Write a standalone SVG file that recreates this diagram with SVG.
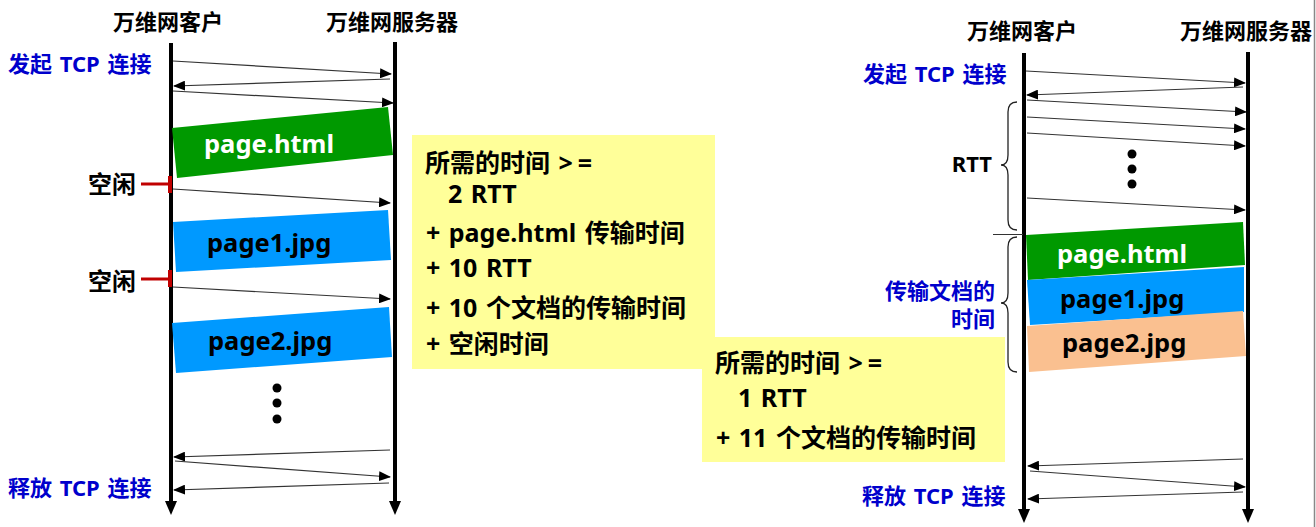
<svg xmlns="http://www.w3.org/2000/svg" width="1316" height="527" viewBox="0 0 1316 527">
<style>
text{font-family:"Noto Sans","Noto Sans CJK SC",sans-serif;font-weight:bold;dominant-baseline:central}
.title{font-size:22px;fill:#000;text-anchor:middle}
.blue{font-size:22px;fill:#0000CC;word-spacing:2px}
.idle{font-size:24px;fill:#000;text-anchor:end}
.box{font-size:25.5px}
.note{font-size:25px;fill:#000;word-spacing:2px}
.msg{stroke:#333;stroke-width:1.2;fill:none;marker-end:url(#ah)}
.axis{stroke:#000;stroke-width:4;fill:none;marker-end:url(#big)}
.brace{stroke:#222;stroke-width:1.3;fill:none}
</style>
<defs>
<marker id="ah" markerUnits="userSpaceOnUse" markerWidth="12" markerHeight="10" refX="11" refY="5" orient="auto" viewBox="0 0 12 10">
<path d="M0,0 L12,5 L0,10 z" fill="#000"/>
</marker>
<marker id="big" markerUnits="userSpaceOnUse" markerWidth="12" markerHeight="14" refX="6" refY="2" orient="0" viewBox="0 0 12 14">
<path d="M0,0 L12,0 L6,14 z" fill="#000"/>
</marker>
</defs>
<rect width="1316" height="527" fill="#fff"/>
<line x1="1314.5" y1="0" x2="1314.5" y2="527" stroke="#888" stroke-width="1.5"/>

<g id="left-client">
<text class="title" x="168" y="21">万维网客户</text>
<line class="axis" x1="171" y1="43" x2="171" y2="503"/>
</g>
<g id="left-server">
<text class="title" x="392" y="21">万维网服务器</text>
<line class="axis" x1="395" y1="42" x2="395" y2="503"/>
</g>
<g id="left-labels">
<text class="blue" x="8" y="63">发起 TCP 连接</text>
<text class="blue" x="8" y="487">释放 TCP 连接</text>
<text class="idle" x="136" y="183">空闲</text>
<text class="idle" x="136" y="280">空闲</text>
<line x1="141" y1="184" x2="170" y2="184" stroke="#C00000" stroke-width="3"/>
<line x1="170" y1="176" x2="170" y2="193" stroke="#C00000" stroke-width="4"/>
<line x1="141" y1="279" x2="170" y2="279" stroke="#C00000" stroke-width="3"/>
<line x1="170" y1="270" x2="170" y2="287" stroke="#C00000" stroke-width="4"/>
<circle cx="277" cy="388" r="4.5" fill="#000"/>
<circle cx="277" cy="403" r="4.5" fill="#000"/>
<circle cx="277" cy="419" r="4.5" fill="#000"/>
</g>
<g id="left-page-html">
<polygon points="172,128 388,107 393,155 177,178" fill="#009900"/>
<text class="box" x="204" y="143" fill="#fff">page.html</text>
</g>
<g id="left-page1">
<polygon points="173,222 388,210 391,260 176,272" fill="#0099FF"/>
<text class="box" x="207" y="242" fill="#000">page1.jpg</text>
</g>
<g id="left-page2">
<polygon points="172,323 389,307 392,357 176,373" fill="#0099FF"/>
<text class="box" x="208" y="340" fill="#000">page2.jpg</text>
</g>

<g id="note1">
<rect x="412" y="135" width="303" height="234" fill="#FFFF99"/>
<text class="note" x="425" y="162">所需的时间 &gt;<tspan dx="5">=</tspan></text>
<text class="note" x="448" y="193">2 RTT</text>
<text class="note" x="426" y="232">+ page.html 传输时间</text>
<text class="note" x="426" y="267">+ 10 RTT</text>
<text class="note" x="426" y="307">+ 10 个文档的传输时间</text>
<text class="note" x="426" y="343">+ 空闲时间</text>
</g>
<g id="note2">
<rect x="702" y="337" width="303" height="125" fill="#FFFF99"/>
<text class="note" x="715" y="362">所需的时间 &gt;<tspan dx="5">=</tspan></text>
<text class="note" x="738" y="397">1 RTT</text>
<text class="note" x="716" y="437">+ 11 个文档的传输时间</text>
</g>

<g id="right-client">
<text class="title" x="1022" y="30">万维网客户</text>
<line class="axis" x1="1024" y1="53" x2="1024" y2="511"/>
</g>
<g id="right-server">
<text class="title" x="1246" y="30">万维网服务器</text>
<line class="axis" x1="1248" y1="52" x2="1248" y2="511"/>
</g>
<g id="right-labels">
<text class="blue" x="863" y="73">发起 TCP 连接</text>
<text class="blue" x="862" y="495">释放 TCP 连接</text>
<text x="992" y="163" style="font-size:22px;fill:#000;text-anchor:end">RTT</text>
<text class="blue" x="995" y="290" style="text-anchor:end">传输文档的</text>
<text class="blue" x="995" y="318" style="text-anchor:end">时间</text>
<path class="brace" d="M1017,102 Q1008,102 1008,112 L1008,155 Q1008,165 1001,165 Q1008,165 1008,175 L1008,220 Q1008,230 1017,230"/>
<path class="brace" d="M1017,237 Q1008,237 1008,247 L1008,293 Q1008,303 1001,303 Q1008,303 1008,313 L1008,362 Q1008,372 1017,372"/>
<line x1="993" y1="234.5" x2="1023" y2="234.5" stroke="#333" stroke-width="1"/>
<circle cx="1132" cy="154" r="4.5" fill="#000"/>
<circle cx="1132" cy="169" r="4.5" fill="#000"/>
<circle cx="1132" cy="184" r="4.5" fill="#000"/>
</g>
<g id="right-page-html">
<polygon points="1026,235 1243,222 1245,265 1028,280" fill="#009900"/>
<text class="box" x="1057" y="253" fill="#fff">page.html</text>
</g>
<g id="right-page1">
<polygon points="1027,280 1244,267 1244,312 1030,325" fill="#0099FF"/>
<text class="box" x="1060" y="298" fill="#000">page1.jpg</text>
</g>
<g id="right-page2">
<polygon points="1027,326 1243,311 1246,356 1029,372" fill="#FAC090"/>
<text class="box" x="1062" y="342" fill="#000">page2.jpg</text>
</g>

<g id="connectors">
<line class="msg" x1="173" y1="61" x2="391" y2="74"/>
<line class="msg" x1="390" y1="79" x2="174" y2="86"/>
<line class="msg" x1="173" y1="91" x2="393" y2="103"/>
<line class="msg" x1="173" y1="189" x2="390" y2="203"/>
<line class="msg" x1="173" y1="287" x2="390" y2="299"/>
<line class="msg" x1="390" y1="450" x2="174" y2="457"/>
<line class="msg" x1="175" y1="461" x2="390" y2="477"/>
<line class="msg" x1="389" y1="483" x2="174" y2="490"/>

<line class="msg" x1="1026" y1="71" x2="1245" y2="83"/>
<line class="msg" x1="1243" y1="87" x2="1027" y2="95"/>
<line class="msg" x1="1027" y1="100" x2="1246" y2="112"/>
<line class="msg" x1="1027" y1="117" x2="1245" y2="129"/>
<line class="msg" x1="1027" y1="133" x2="1245" y2="146"/>
<line class="msg" x1="1027" y1="198" x2="1245" y2="210"/>
<line class="msg" x1="1243" y1="459" x2="1028" y2="466"/>
<line class="msg" x1="1030" y1="471" x2="1245" y2="487"/>
<line class="msg" x1="1243" y1="492" x2="1028" y2="499"/>
</g>
</svg>
